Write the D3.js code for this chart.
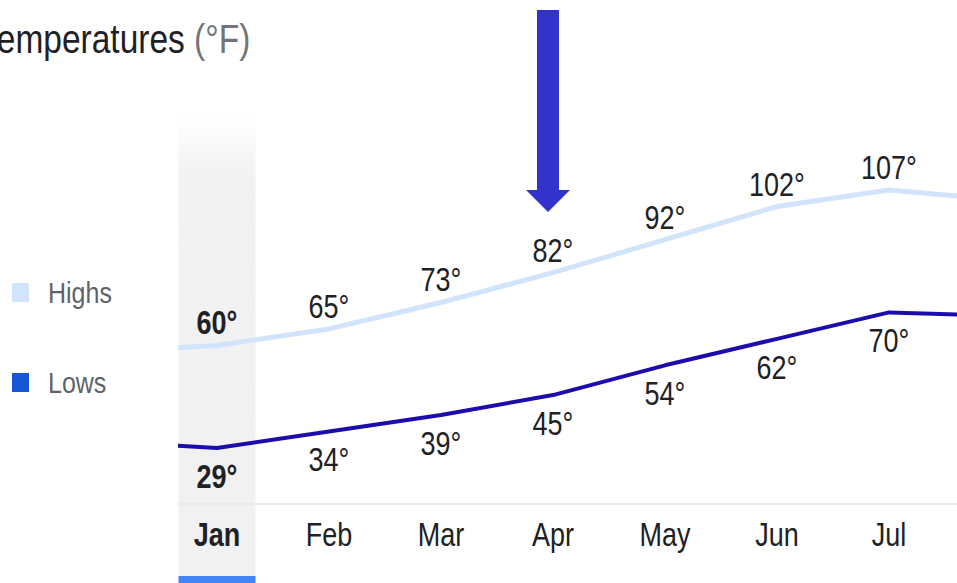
<!DOCTYPE html>
<html>
<head>
<meta charset="utf-8">
<script src="https://cdn.jsdelivr.net/npm/d3@7"></script>
<style>
  html, body { margin: 0; padding: 0; background: #fff; overflow: hidden; }
  svg { display: block; font-family: "Liberation Sans", Arial, sans-serif; }
</style>
</head>
<body>
<svg id="chart" width="957" height="583"></svg>
<script>
// ---- data ----
const months = ["Dec", "Jan", "Feb", "Mar", "Apr", "May", "Jun", "Jul", "Aug"];
const highs  = [58, 60, 65, 73, 82, 92, 102, 107, 104];
const lows   = [31, 29, 34, 39, 45, 54, 62, 70, 69];
const labelledMonths = ["Jan", "Feb", "Mar", "Apr", "May", "Jun", "Jul"];
const selectedMonth = "Jan";
const titleMain = "Temperatures";
const titleUnit = " (°F)";
const legendLabels = ["Highs", "Lows"];

// ---- layout ----
const W = 957, H = 583;
const SY = 1.2; // vertical text stretch seen in reference
const svg = d3.select("#chart");

const x = d3.scalePoint().domain(months).range([105, 1001]);
const y = d3.scaleLinear().domain([29, 107]).range([448, 190]);

const plotLeft = 178, plotRight = W;
const colHalf = 38.5;

// defs
const defs = svg.append("defs");
defs.append("clipPath").attr("id", "plotClip")
  .append("rect").attr("x", plotLeft).attr("y", 0).attr("width", plotRight - plotLeft).attr("height", H);
const grad = defs.append("linearGradient").attr("id", "colGrad")
  .attr("x1", 0).attr("y1", 0).attr("x2", 0).attr("y2", 1);
grad.append("stop").attr("offset", "0").attr("stop-color", "#ffffff");
grad.append("stop").attr("offset", "0.12").attr("stop-color", "#f2f2f2");
grad.append("stop").attr("offset", "1").attr("stop-color", "#f1f1f1");

function stretchText(sel, tx, ty) {
  return sel.attr("x", 0).attr("y", 0)
    .attr("transform", `translate(${tx},${ty}) scale(1,${SY})`);
}

// selected column
svg.append("rect")
  .attr("x", x(selectedMonth) - colHalf).attr("y", 118)
  .attr("width", colHalf * 2).attr("height", 576 - 118)
  .attr("fill", "url(#colGrad)");
svg.append("rect")
  .attr("x", x(selectedMonth) - colHalf).attr("y", 576)
  .attr("width", colHalf * 2).attr("height", 7)
  .attr("fill", "#4285f4");

// baseline
svg.append("line")
  .attr("x1", plotLeft).attr("x2", plotRight)
  .attr("y1", 504).attr("y2", 504)
  .attr("stroke", "#ebebeb").attr("stroke-width", 2);

const plot = svg.append("g").attr("clip-path", "url(#plotClip)");

const line = d3.line().x((d, i) => x(months[i])).y(d => y(d));

plot.append("path").datum(highs)
  .attr("d", line).attr("fill", "none")
  .attr("stroke", "#d2e3fc").attr("stroke-width", 5)
  .attr("stroke-linejoin", "round");
plot.append("path").datum(lows)
  .attr("d", line).attr("fill", "none")
  .attr("stroke", "#1a0dab").attr("stroke-width", 4)
  .attr("stroke-linejoin", "round");

// value labels (only for months visible in the window)
const shown = months.map((m, i) => ({ m, hi: highs[i], lo: lows[i] }))
  .filter(d => labelledMonths.includes(d.m));

svg.selectAll(".hl").data(shown).enter().append("text")
  .attr("class", "hl")
  .each(function (d) { stretchText(d3.select(this), x(d.m), y(d.hi) - 11); })
  .attr("text-anchor", "middle").attr("font-size", 27)
  .attr("font-weight", d => d.m === selectedMonth ? "bold" : "normal")
  .attr("fill", "#202124")
  .text(d => d.hi + "°");
svg.selectAll(".ll").data(shown).enter().append("text")
  .attr("class", "ll")
  .each(function (d) { stretchText(d3.select(this), x(d.m), y(d.lo) + 40); })
  .attr("text-anchor", "middle").attr("font-size", 27)
  .attr("font-weight", d => d.m === selectedMonth ? "bold" : "normal")
  .attr("fill", "#202124")
  .text(d => d.lo + "°");

// month labels
svg.selectAll(".ml").data(labelledMonths).enter().append("text")
  .attr("class", "ml")
  .each(function (d) { stretchText(d3.select(this), x(d), 546); })
  .attr("text-anchor", "middle").attr("font-size", 27)
  .attr("font-weight", d => d === selectedMonth ? "bold" : "normal")
  .attr("fill", "#202124")
  .text(d => d);

// title
const title = svg.append("text");
stretchText(title, -20, 53).attr("font-size", 33.5);
title.append("tspan").attr("fill", "#202124").text(titleMain);
title.append("tspan").attr("fill", "#70757a").text(titleUnit);

// legend
const legendColors = ["#d2e3fc", "#1558d6"];
const legendY = [283, 373];
legendLabels.forEach((lab, i) => {
  svg.append("rect").attr("x", 12).attr("y", legendY[i])
    .attr("width", 17).attr("height", 19).attr("fill", legendColors[i]);
  stretchText(svg.append("text"), 48, legendY[i] + 20)
    .attr("font-size", 25).attr("fill", "#5f6368").text(lab);
});

// arrow annotation
const ax = x("Apr") - 5;
const arrow = d3.path();
arrow.moveTo(ax - 11, 10);
arrow.lineTo(ax + 11, 10);
arrow.lineTo(ax + 11, 190);
arrow.lineTo(ax + 22, 190);
arrow.lineTo(ax, 212);
arrow.lineTo(ax - 22, 190);
arrow.lineTo(ax - 11, 190);
arrow.closePath();
svg.append("path").attr("d", arrow.toString()).attr("fill", "#3333cc");
</script>
</body>
</html>
